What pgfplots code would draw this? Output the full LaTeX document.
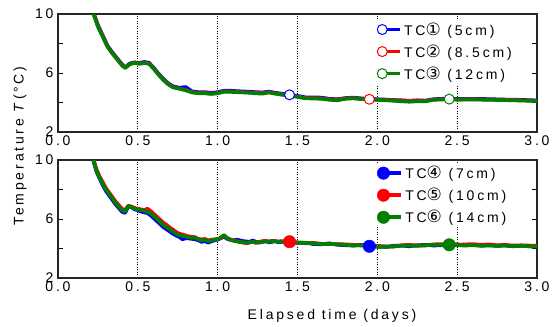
\documentclass[border=0pt]{standalone}
\usepackage{pgfplots}
\pgfplotsset{compat=1.18}
\usepackage{pgfplotstable}
\usepackage{fontspec}
\setmainfont{Liberation Sans}
\newfontfamily\spaced[LetterSpace=20]{Liberation Sans}
\newfontfamily\circfont[LetterSpace=10]{DejaVu Sans}
\newcommand{\cd}[1]{{\circfont\fontsize{17}{16}\selectfont #1}}
\definecolor{dgreen}{RGB}{0,128,0}

\pgfplotstableread{
x b r g
0.21 10.45 10.4 10.4
0.25 9.25 9.2 9.15
0.28 8.55 8.5 8.45
0.31 7.85 7.8 7.78
0.34 7.4 7.35 7.33
0.37 7.0 6.95 6.93
0.40 6.6 6.55 6.53
0.42 6.38 6.36 6.33
0.45 6.65 6.6 6.6
0.48 6.72 6.7 6.68
0.51 6.68 6.65 6.62
0.54 6.75 6.7 6.68
0.57 6.7 6.65 6.62
0.60 6.35 6.3 6.28
0.63 5.95 5.9 5.88
0.66 5.6 5.55 5.53
0.69 5.3 5.25 5.23
0.72 5.1 5.05 5.03
0.76 5.0 4.95 4.93
0.80 5.05 4.85 4.83
0.84 4.75 4.7 4.68
0.88 4.7 4.65 4.63
0.92 4.7 4.65 4.62
0.96 4.65 4.6 4.58
1.00 4.7 4.65 4.62
1.04 4.8 4.75 4.73
1.08 4.8 4.75 4.72
1.12 4.77 4.72 4.7
1.16 4.75 4.7 4.68
1.20 4.73 4.68 4.66
1.24 4.7 4.65 4.62
1.28 4.68 4.63 4.6
1.32 4.74 4.7 4.68
1.36 4.66 4.62 4.6
1.40 4.6 4.55 4.53
1.45 4.52 4.5 4.47
1.50 4.45 4.4 4.38
1.55 4.35 4.3 4.28
1.60 4.35 4.3 4.27
1.65 4.33 4.28 4.25
1.70 4.25 4.22 4.18
1.75 4.22 4.2 4.15
1.80 4.3 4.28 4.25
1.85 4.33 4.3 4.28
1.90 4.28 4.25 4.23
1.95 4.24 4.22 4.2
2.00 4.22 4.2 4.18
2.05 4.2 4.18 4.15
2.10 4.17 4.15 4.12
2.15 4.15 4.12 4.08
2.20 4.12 4.1 4.05
2.25 4.15 4.12 4.08
2.30 4.13 4.1 4.08
2.35 4.22 4.2 4.18
2.40 4.25 4.22 4.2
2.45 4.26 4.24 4.23
2.50 4.24 4.2 4.2
2.60 4.25 4.22 4.2
2.70 4.23 4.2 4.18
2.80 4.2 4.18 4.16
2.90 4.18 4.15 4.13
3.00 4.14 4.12 4.1
}\topdata

\pgfplotstableread{
x b r g
0.21 10.4 10.5 10.45
0.24 9.25 9.4 9.3
0.26 8.75 8.9 8.8
0.28 8.3 8.5 8.4
0.30 7.9 8.1 8.0
0.32 7.6 7.8 7.7
0.34 7.3 7.5 7.4
0.36 7.0 7.2 7.1
0.38 6.75 6.95 6.85
0.40 6.5 6.7 6.6
0.42 6.4 6.6 6.5
0.44 6.85 6.9 6.88
0.46 6.8 6.85 6.8
0.48 6.65 6.75 6.7
0.50 6.6 6.7 6.65
0.52 6.5 6.65 6.6
0.54 6.45 6.6 6.55
0.56 6.4 6.7 6.5
0.58 6.25 6.55 6.38
0.60 6.05 6.35 6.2
0.62 5.85 6.15 6.0
0.64 5.65 5.95 5.8
0.66 5.45 5.75 5.6
0.68 5.3 5.6 5.45
0.70 5.15 5.42 5.3
0.72 5.0 5.28 5.15
0.74 4.88 5.12 5.0
0.76 4.78 5.0 4.9
0.78 4.62 4.95 4.85
0.80 4.7 4.88 4.8
0.82 4.68 4.82 4.75
0.84 4.65 4.8 4.72
0.86 4.62 4.76 4.75
0.88 4.55 4.65 4.6
0.90 4.45 4.62 4.55
0.92 4.5 4.65 4.6
0.94 4.4 4.55 4.5
0.96 4.48 4.6 4.55
0.98 4.55 4.62 4.6
1.00 4.6 4.65 4.62
1.02 4.7 4.72 4.75
1.04 4.8 4.85 4.92
1.06 4.65 4.72 4.7
1.08 4.58 4.6 4.6
1.10 4.55 4.55 4.52
1.12 4.6 4.5 4.48
1.14 4.55 4.42 4.45
1.16 4.5 4.4 4.42
1.18 4.48 4.35 4.4
1.20 4.45 4.4 4.42
1.22 4.55 4.45 4.45
1.24 4.45 4.38 4.4
1.26 4.4 4.45 4.42
1.28 4.45 4.5 4.45
1.30 4.5 4.52 4.48
1.32 4.42 4.48 4.45
1.34 4.45 4.52 4.5
1.36 4.5 4.5 4.48
1.38 4.42 4.48 4.45
1.40 4.45 4.5 4.47
1.45 4.42 4.46 4.44
1.50 4.38 4.42 4.4
1.55 4.4 4.35 4.38
1.60 4.3 4.38 4.35
1.65 4.28 4.32 4.3
1.70 4.35 4.3 4.32
1.75 4.25 4.3 4.28
1.80 4.22 4.28 4.25
1.85 4.2 4.25 4.2
1.90 4.25 4.2 4.22
1.95 4.15 4.2 4.18
2.00 4.12 4.18 4.12
2.05 4.1 4.15 4.1
2.10 4.18 4.12 4.15
2.15 4.2 4.22 4.18
2.20 4.15 4.25 4.2
2.25 4.22 4.2 4.18
2.30 4.25 4.2 4.22
2.35 4.2 4.28 4.25
2.40 4.22 4.3 4.24
2.45 4.25 4.3 4.25
2.50 4.28 4.25 4.22
2.55 4.22 4.28 4.2
2.60 4.25 4.3 4.22
2.65 4.2 4.25 4.18
2.70 4.22 4.28 4.2
2.75 4.18 4.22 4.18
2.80 4.2 4.25 4.2
2.85 4.15 4.2 4.16
2.90 4.18 4.22 4.18
2.95 4.15 4.2 4.15
3.00 4.12 4.18 4.12
}\botdata

\pgfplotsset{
  panel/.style={
    scale only axis, width=479pt, height=118pt,
    xmin=0, xmax=3, ymin=2, ymax=10,
    xtick={0,0.5,1,1.5,2,2.5,3},
    xticklabels={0.0,0.5,1.0,1.5,2.0,2.5,3.0},
    ytick={2,4,6,8,10}, yticklabels={2,,6,,10},
    tick align=inside, ytick pos=both,
    major tick length=5pt,
    major x tick style={draw=none},
    ytick style={line width=0.8pt, black},
    xmajorgrids,
    grid style={black, line width=0.7pt, dash pattern=on 1.2pt off 1.3pt},
    axis line style={line width=1.1pt, black!85},
    tick label style={font=\spaced\fontsize{14}{14}\selectfont},
    xticklabel style={yshift=0pt},
    yticklabel style={xshift=-1pt},
    legend cell align=left,
    legend style={draw=none, fill=white, inner sep=1pt, row sep=4pt,
      font=\spaced\fontsize{14}{16}\selectfont, anchor=north west},
    legend image code/.code={\draw[##1, mark indices={1}] plot coordinates {(0pt,0pt) (18pt,0pt)};},
  },
  ser/.style={line width=3.6pt, line join=round},
  openm/.style={mark=*, mark size=5pt, mark options={fill=white, line width=1pt, solid}},
  fillm/.style={mark=*, mark size=6.2pt, mark options={line width=0.5pt, solid}},
}

\begin{document}
\begin{tikzpicture}[x=1pt,y=1pt]
\path[use as bounding box] (0,0) rectangle (555,-327);

\begin{axis}[panel, at={(58pt,-14pt)}, anchor=north west,
  legend style={at={(0.664,0.955)}}]
\addplot[blue, ser, openm, mark indices={35}] table[x=x,y=b]{\topdata};
\addlegendentry{TC\cd{①} (5cm)}
\addplot[red, ser, openm, mark indices={45}] table[x=x,y=r]{\topdata};
\addlegendentry{TC\cd{②} (8.5cm)}
\addplot[dgreen, ser, openm, mark indices={55}] table[x=x,y=g]{\topdata};
\addlegendentry{TC\cd{③} (12cm)}
\end{axis}

\begin{axis}[panel, at={(58pt,-160pt)}, anchor=north west,
  legend style={at={(0.664,0.975)}}]
\addplot[blue, ser, fillm, mark indices={70}] table[x=x,y=b]{\botdata};
\addlegendentry{TC\cd{④} (7cm)}
\addplot[red, ser, fillm, mark indices={60}] table[x=x,y=r]{\botdata};
\addlegendentry{TC\cd{⑤} (10cm)}
\addplot[dgreen, ser, fillm, mark indices={80}] table[x=x,y=g]{\botdata};
\addlegendentry{TC\cd{⑥} (14cm)}
\end{axis}

\node[rotate=90, font=\spaced\fontsize{14}{14}\selectfont] at (20,-146) {Temperature \textit{T}(°C)};
\node[font=\spaced\fontsize{14}{14}\selectfont] at (332,-316) {Elapsed time (days)};
\end{tikzpicture}
\end{document}
